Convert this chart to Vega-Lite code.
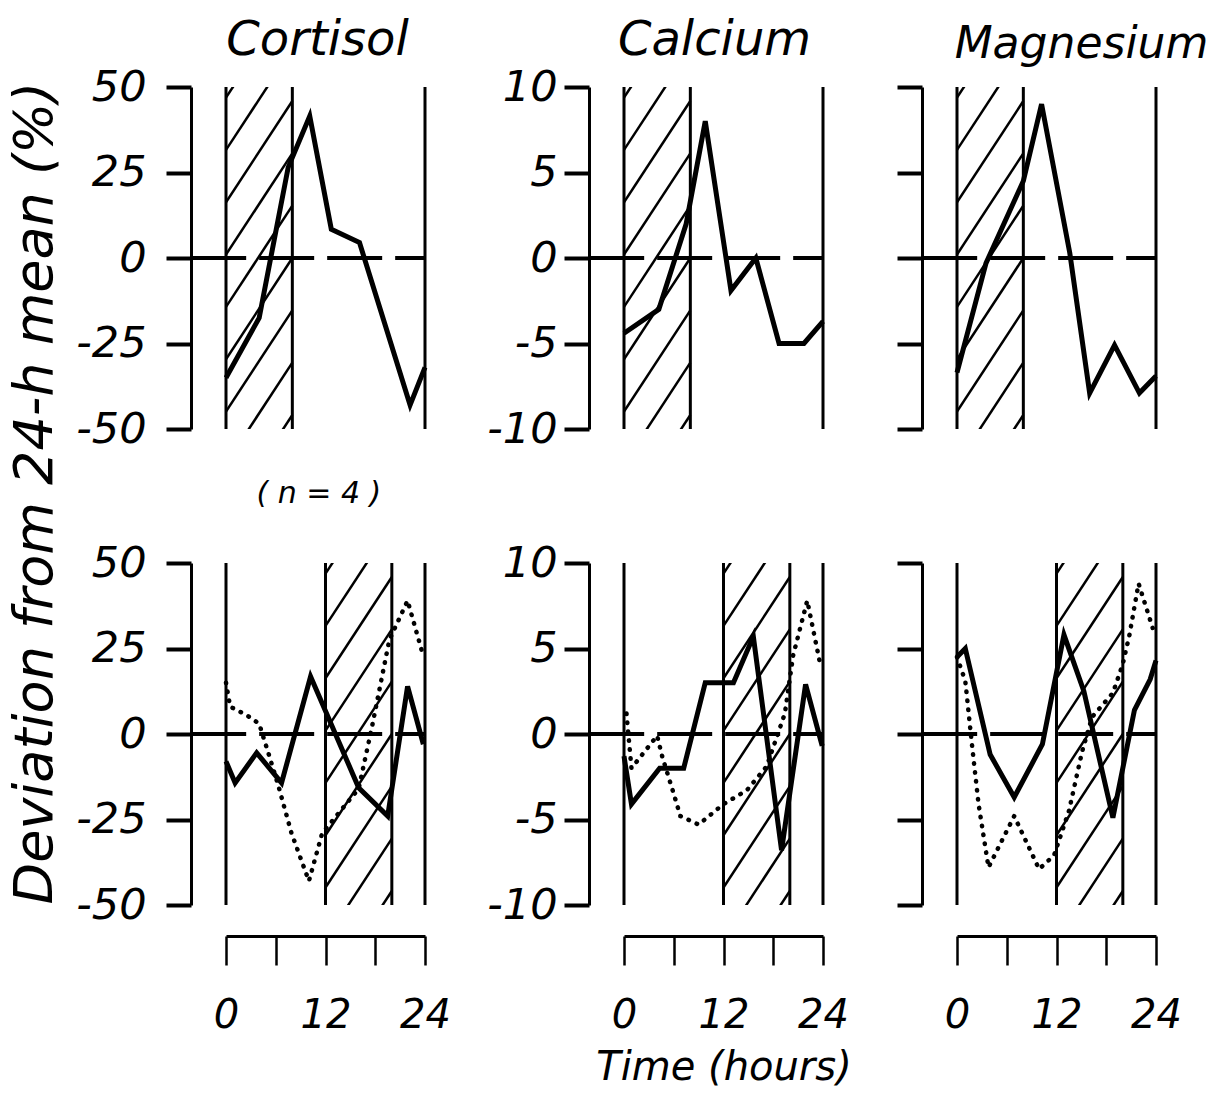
{
  "$schema": "https://vega.github.io/schema/vega-lite/v6.json",
  "padding": {"left": 8, "top": 17, "right": 5, "bottom": 3},
  "background": "white",
  "title": {"text": "Deviation from 24-h mean (%)", "orient": "left", "anchor": "middle", "fontSize": 54, "offset": 13, "dx": 59},
  "columns": 3,
  "align": "each",
  "spacing": {"row": 33, "column": 35},
  "datasets": {
    "hatch": [
      {"row": "top", "range": "50", "t0": 0, "t1": 8, "v0": -75.5, "v1": -45.9},
      {"row": "top", "range": "50", "t0": 0, "t1": 8, "v0": -60.2, "v1": -30.6},
      {"row": "top", "range": "50", "t0": 0, "t1": 8, "v0": -44.9, "v1": -15.3},
      {"row": "top", "range": "50", "t0": 0, "t1": 8, "v0": -29.6, "v1": 0},
      {"row": "top", "range": "50", "t0": 0, "t1": 8, "v0": -14.3, "v1": 15.3},
      {"row": "top", "range": "50", "t0": 0, "t1": 8, "v0": 1, "v1": 30.6},
      {"row": "top", "range": "50", "t0": 0, "t1": 8, "v0": 16.3, "v1": 45.9},
      {"row": "top", "range": "50", "t0": 0, "t1": 8, "v0": 31.6, "v1": 61.2},
      {"row": "top", "range": "50", "t0": 0, "t1": 8, "v0": 46.9, "v1": 76.5},
      {"row": "top", "range": "10", "t0": 0, "t1": 8, "v0": -15.1, "v1": -9.18},
      {"row": "top", "range": "10", "t0": 0, "t1": 8, "v0": -12.04, "v1": -6.12},
      {"row": "top", "range": "10", "t0": 0, "t1": 8, "v0": -8.98, "v1": -3.06},
      {"row": "top", "range": "10", "t0": 0, "t1": 8, "v0": -5.92, "v1": 0},
      {"row": "top", "range": "10", "t0": 0, "t1": 8, "v0": -2.86, "v1": 3.06},
      {"row": "top", "range": "10", "t0": 0, "t1": 8, "v0": 0.2, "v1": 6.12},
      {"row": "top", "range": "10", "t0": 0, "t1": 8, "v0": 3.26, "v1": 9.18},
      {"row": "top", "range": "10", "t0": 0, "t1": 8, "v0": 6.32, "v1": 12.24},
      {"row": "top", "range": "10", "t0": 0, "t1": 8, "v0": 9.38, "v1": 15.3},
      {"row": "bottom", "range": "50", "t0": 12, "t1": 20, "v0": -75.5, "v1": -45.9},
      {"row": "bottom", "range": "50", "t0": 12, "t1": 20, "v0": -60.2, "v1": -30.6},
      {"row": "bottom", "range": "50", "t0": 12, "t1": 20, "v0": -44.9, "v1": -15.3},
      {"row": "bottom", "range": "50", "t0": 12, "t1": 20, "v0": -29.6, "v1": 0},
      {"row": "bottom", "range": "50", "t0": 12, "t1": 20, "v0": -14.3, "v1": 15.3},
      {"row": "bottom", "range": "50", "t0": 12, "t1": 20, "v0": 1, "v1": 30.6},
      {"row": "bottom", "range": "50", "t0": 12, "t1": 20, "v0": 16.3, "v1": 45.9},
      {"row": "bottom", "range": "50", "t0": 12, "t1": 20, "v0": 31.6, "v1": 61.2},
      {"row": "bottom", "range": "50", "t0": 12, "t1": 20, "v0": 46.9, "v1": 76.5},
      {"row": "bottom", "range": "10", "t0": 12, "t1": 20, "v0": -15.1, "v1": -9.18},
      {"row": "bottom", "range": "10", "t0": 12, "t1": 20, "v0": -12.04, "v1": -6.12},
      {"row": "bottom", "range": "10", "t0": 12, "t1": 20, "v0": -8.98, "v1": -3.06},
      {"row": "bottom", "range": "10", "t0": 12, "t1": 20, "v0": -5.92, "v1": 0},
      {"row": "bottom", "range": "10", "t0": 12, "t1": 20, "v0": -2.86, "v1": 3.06},
      {"row": "bottom", "range": "10", "t0": 12, "t1": 20, "v0": 0.2, "v1": 6.12},
      {"row": "bottom", "range": "10", "t0": 12, "t1": 20, "v0": 3.26, "v1": 9.18},
      {"row": "bottom", "range": "10", "t0": 12, "t1": 20, "v0": 6.32, "v1": 12.24},
      {"row": "bottom", "range": "10", "t0": 12, "t1": 20, "v0": 9.38, "v1": 15.3}
    ],
    "frames": [
      {"row": "top", "t": 0}, {"row": "top", "t": 8}, {"row": "top", "t": 24},
      {"row": "bottom", "t": 0}, {"row": "bottom", "t": 12}, {"row": "bottom", "t": 20}, {"row": "bottom", "t": 24}
    ],
    "zero": [{"v": 0, "from": -4.2, "to": 24}],
    "note": [{"label": "( n = 4 )", "t": 11.2, "v": -69}],
    "series": [
      {"row": "top", "analyte": "Cortisol", "series": "solid", "t": 0, "v": -35},
      {"row": "top", "analyte": "Cortisol", "series": "solid", "t": 4, "v": -17.5},
      {"row": "top", "analyte": "Cortisol", "series": "solid", "t": 7.5, "v": 26.5},
      {"row": "top", "analyte": "Cortisol", "series": "solid", "t": 10.1, "v": 41.5},
      {"row": "top", "analyte": "Cortisol", "series": "solid", "t": 12.7, "v": 8.4},
      {"row": "top", "analyte": "Cortisol", "series": "solid", "t": 16.1, "v": 4.5},
      {"row": "top", "analyte": "Cortisol", "series": "solid", "t": 22.2, "v": -43},
      {"row": "top", "analyte": "Cortisol", "series": "solid", "t": 24, "v": -32},
      {"row": "top", "analyte": "Calcium", "series": "solid", "t": 0, "v": -4.4},
      {"row": "top", "analyte": "Calcium", "series": "solid", "t": 4.2, "v": -3.0},
      {"row": "top", "analyte": "Calcium", "series": "solid", "t": 7.5, "v": 2.0},
      {"row": "top", "analyte": "Calcium", "series": "solid", "t": 9.8, "v": 8.0},
      {"row": "top", "analyte": "Calcium", "series": "solid", "t": 12.9, "v": -1.9},
      {"row": "top", "analyte": "Calcium", "series": "solid", "t": 15.9, "v": 0},
      {"row": "top", "analyte": "Calcium", "series": "solid", "t": 18.7, "v": -5.0},
      {"row": "top", "analyte": "Calcium", "series": "solid", "t": 21.7, "v": -5.0},
      {"row": "top", "analyte": "Calcium", "series": "solid", "t": 24, "v": -3.7},
      {"row": "top", "analyte": "Magnesium", "series": "solid", "t": 0, "v": -6.7},
      {"row": "top", "analyte": "Magnesium", "series": "solid", "t": 3.5, "v": -0.3},
      {"row": "top", "analyte": "Magnesium", "series": "solid", "t": 8, "v": 4.5},
      {"row": "top", "analyte": "Magnesium", "series": "solid", "t": 10.2, "v": 9.0},
      {"row": "top", "analyte": "Magnesium", "series": "solid", "t": 13.6, "v": 0.3},
      {"row": "top", "analyte": "Magnesium", "series": "solid", "t": 16, "v": -7.9},
      {"row": "top", "analyte": "Magnesium", "series": "solid", "t": 19, "v": -5.1},
      {"row": "top", "analyte": "Magnesium", "series": "solid", "t": 22, "v": -7.9},
      {"row": "top", "analyte": "Magnesium", "series": "solid", "t": 24, "v": -6.9},
      {"row": "bottom", "analyte": "Cortisol", "series": "solid", "t": 0, "v": -8},
      {"row": "bottom", "analyte": "Cortisol", "series": "solid", "t": 1.1, "v": -14.3},
      {"row": "bottom", "analyte": "Cortisol", "series": "solid", "t": 3.7, "v": -5.5},
      {"row": "bottom", "analyte": "Cortisol", "series": "solid", "t": 6.7, "v": -14.3},
      {"row": "bottom", "analyte": "Cortisol", "series": "solid", "t": 10.2, "v": 16.8},
      {"row": "bottom", "analyte": "Cortisol", "series": "solid", "t": 16, "v": -15.7},
      {"row": "bottom", "analyte": "Cortisol", "series": "solid", "t": 19.5, "v": -24},
      {"row": "bottom", "analyte": "Cortisol", "series": "solid", "t": 21.9, "v": 13.9},
      {"row": "bottom", "analyte": "Cortisol", "series": "solid", "t": 23.8, "v": -3},
      {"row": "bottom", "analyte": "Cortisol", "series": "dotted", "t": 0, "v": 15},
      {"row": "bottom", "analyte": "Cortisol", "series": "dotted", "t": 0.5, "v": 8},
      {"row": "bottom", "analyte": "Cortisol", "series": "dotted", "t": 2.5, "v": 5.5},
      {"row": "bottom", "analyte": "Cortisol", "series": "dotted", "t": 4, "v": 3},
      {"row": "bottom", "analyte": "Cortisol", "series": "dotted", "t": 5.1, "v": -5.5},
      {"row": "bottom", "analyte": "Cortisol", "series": "dotted", "t": 6.3, "v": -15},
      {"row": "bottom", "analyte": "Cortisol", "series": "dotted", "t": 7.9, "v": -29},
      {"row": "bottom", "analyte": "Cortisol", "series": "dotted", "t": 10, "v": -43},
      {"row": "bottom", "analyte": "Cortisol", "series": "dotted", "t": 11.6, "v": -29},
      {"row": "bottom", "analyte": "Cortisol", "series": "dotted", "t": 16, "v": -16},
      {"row": "bottom", "analyte": "Cortisol", "series": "dotted", "t": 17.6, "v": 2},
      {"row": "bottom", "analyte": "Cortisol", "series": "dotted", "t": 19.7, "v": 27.5},
      {"row": "bottom", "analyte": "Cortisol", "series": "dotted", "t": 21.9, "v": 39},
      {"row": "bottom", "analyte": "Cortisol", "series": "dotted", "t": 23.7, "v": 23.6},
      {"row": "bottom", "analyte": "Calcium", "series": "solid", "t": 0, "v": -1.3},
      {"row": "bottom", "analyte": "Calcium", "series": "solid", "t": 0.9, "v": -4.1},
      {"row": "bottom", "analyte": "Calcium", "series": "solid", "t": 4.3, "v": -2.0},
      {"row": "bottom", "analyte": "Calcium", "series": "solid", "t": 7.2, "v": -2.0},
      {"row": "bottom", "analyte": "Calcium", "series": "solid", "t": 9.8, "v": 3.0},
      {"row": "bottom", "analyte": "Calcium", "series": "solid", "t": 13.2, "v": 3.0},
      {"row": "bottom", "analyte": "Calcium", "series": "solid", "t": 15.6, "v": 5.7},
      {"row": "bottom", "analyte": "Calcium", "series": "solid", "t": 19.0, "v": -6.8},
      {"row": "bottom", "analyte": "Calcium", "series": "solid", "t": 21.9, "v": 2.9},
      {"row": "bottom", "analyte": "Calcium", "series": "solid", "t": 23.9, "v": -0.7},
      {"row": "bottom", "analyte": "Calcium", "series": "dotted", "t": 0.3, "v": 1.2},
      {"row": "bottom", "analyte": "Calcium", "series": "dotted", "t": 0.9, "v": -2.0},
      {"row": "bottom", "analyte": "Calcium", "series": "dotted", "t": 4.0, "v": -0.1},
      {"row": "bottom", "analyte": "Calcium", "series": "dotted", "t": 4.6, "v": -1.3},
      {"row": "bottom", "analyte": "Calcium", "series": "dotted", "t": 6.0, "v": -3.5},
      {"row": "bottom", "analyte": "Calcium", "series": "dotted", "t": 6.8, "v": -4.8},
      {"row": "bottom", "analyte": "Calcium", "series": "dotted", "t": 9.0, "v": -5.3},
      {"row": "bottom", "analyte": "Calcium", "series": "dotted", "t": 12.0, "v": -4.1},
      {"row": "bottom", "analyte": "Calcium", "series": "dotted", "t": 14.8, "v": -3.3},
      {"row": "bottom", "analyte": "Calcium", "series": "dotted", "t": 17.2, "v": -1.9},
      {"row": "bottom", "analyte": "Calcium", "series": "dotted", "t": 19.4, "v": 1.2},
      {"row": "bottom", "analyte": "Calcium", "series": "dotted", "t": 20.4, "v": 4.6},
      {"row": "bottom", "analyte": "Calcium", "series": "dotted", "t": 22.1, "v": 7.8},
      {"row": "bottom", "analyte": "Calcium", "series": "dotted", "t": 23.7, "v": 4.0},
      {"row": "bottom", "analyte": "Magnesium", "series": "solid", "t": 0, "v": 4.5},
      {"row": "bottom", "analyte": "Magnesium", "series": "solid", "t": 1.0, "v": 5.0},
      {"row": "bottom", "analyte": "Magnesium", "series": "solid", "t": 4.0, "v": -1.2},
      {"row": "bottom", "analyte": "Magnesium", "series": "solid", "t": 6.9, "v": -3.7},
      {"row": "bottom", "analyte": "Magnesium", "series": "solid", "t": 10.3, "v": -0.6},
      {"row": "bottom", "analyte": "Magnesium", "series": "solid", "t": 12.9, "v": 5.8},
      {"row": "bottom", "analyte": "Magnesium", "series": "solid", "t": 15.3, "v": 2.5},
      {"row": "bottom", "analyte": "Magnesium", "series": "solid", "t": 18.8, "v": -4.9},
      {"row": "bottom", "analyte": "Magnesium", "series": "solid", "t": 21.4, "v": 1.4},
      {"row": "bottom", "analyte": "Magnesium", "series": "solid", "t": 23.3, "v": 3.2},
      {"row": "bottom", "analyte": "Magnesium", "series": "solid", "t": 24, "v": 4.3},
      {"row": "bottom", "analyte": "Magnesium", "series": "dotted", "t": 0, "v": 4.5},
      {"row": "bottom", "analyte": "Magnesium", "series": "dotted", "t": 1.0, "v": 3.1},
      {"row": "bottom", "analyte": "Magnesium", "series": "dotted", "t": 1.8, "v": -0.6},
      {"row": "bottom", "analyte": "Magnesium", "series": "dotted", "t": 2.6, "v": -4.1},
      {"row": "bottom", "analyte": "Magnesium", "series": "dotted", "t": 3.8, "v": -7.8},
      {"row": "bottom", "analyte": "Magnesium", "series": "dotted", "t": 6.9, "v": -4.8},
      {"row": "bottom", "analyte": "Magnesium", "series": "dotted", "t": 9.9, "v": -7.9},
      {"row": "bottom", "analyte": "Magnesium", "series": "dotted", "t": 11.7, "v": -7.1},
      {"row": "bottom", "analyte": "Magnesium", "series": "dotted", "t": 13.5, "v": -4.5},
      {"row": "bottom", "analyte": "Magnesium", "series": "dotted", "t": 15.1, "v": -1.0},
      {"row": "bottom", "analyte": "Magnesium", "series": "dotted", "t": 16.3, "v": 1.0},
      {"row": "bottom", "analyte": "Magnesium", "series": "dotted", "t": 18.8, "v": 2.4},
      {"row": "bottom", "analyte": "Magnesium", "series": "dotted", "t": 20.0, "v": 4.1},
      {"row": "bottom", "analyte": "Magnesium", "series": "dotted", "t": 20.8, "v": 5.8},
      {"row": "bottom", "analyte": "Magnesium", "series": "dotted", "t": 21.9, "v": 8.8},
      {"row": "bottom", "analyte": "Magnesium", "series": "dotted", "t": 23.6, "v": 6.2}
    ]
  },
  "concat": [
    {
      "width": 199, "height": 342,
      "title": {"text": "Cortisol", "frame": "group", "dx": -8, "offset": 1},
      "layer": [
        {"data": {"name": "hatch"}, "transform": [{"filter": "datum.row === 'top' && datum.range === '50'"}],
         "mark": {"type": "rule", "clip": true, "strokeWidth": 2.5, "color": "black"},
         "encoding": {"x": {"field": "t0", "type": "quantitative", "scale": {"domain": [0, 24], "nice": false, "zero": false}, "axis": null}, "x2": {"field": "t1"},
                      "y": {"field": "v0", "type": "quantitative", "scale": {"domain": [-50, 50], "nice": false, "zero": false},
                            "axis": {"values": [-50, -25, 0, 25, 50], "title": null, "labelPadding": 20, "labelExpr": "replace(datum.label, '−', '-')"}}, "y2": {"field": "v1"}}},
        {"data": {"name": "frames"}, "transform": [{"filter": "datum.row === 'top'"}],
         "mark": {"type": "rule", "strokeWidth": 3, "color": "black"},
         "encoding": {"x": {"field": "t", "type": "quantitative", "axis": null}}},
        {"data": {"name": "zero"},
         "mark": {"type": "rule", "strokeWidth": 4, "color": "black", "strokeDash": [55, 13]},
         "encoding": {"x": {"field": "from", "type": "quantitative", "axis": null}, "x2": {"field": "to"},
                      "y": {"field": "v", "type": "quantitative", "axis": {"values": [-50, -25, 0, 25, 50], "title": null, "labelPadding": 20, "labelExpr": "replace(datum.label, '−', '-')"}}}},
        {"data": {"name": "series"}, "transform": [{"filter": "datum.row === 'top' && datum.analyte === 'Cortisol' && datum.series === 'solid'"}],
         "mark": {"type": "line", "strokeWidth": 5, "color": "black", "strokeJoin": "miter"},
         "encoding": {"x": {"field": "t", "type": "quantitative", "axis": null},
                      "y": {"field": "v", "type": "quantitative", "axis": {"values": [-50, -25, 0, 25, 50], "title": null, "labelPadding": 20, "labelExpr": "replace(datum.label, '−', '-')"}}}},
        {"data": {"name": "note"},
         "mark": {"type": "text", "fontSize": 30, "fontStyle": "italic", "color": "black", "baseline": "middle"},
         "encoding": {"x": {"field": "t", "type": "quantitative", "axis": null},
                      "y": {"field": "v", "type": "quantitative", "axis": {"values": [-50, -25, 0, 25, 50], "title": null, "labelPadding": 20, "labelExpr": "replace(datum.label, '−', '-')"}}, "text": {"field": "label"}}}
      ]
    },
    {
      "width": 199, "height": 342,
      "title": {"text": "Calcium", "frame": "group", "dx": -9, "offset": 1},
      "layer": [
        {"data": {"name": "hatch"}, "transform": [{"filter": "datum.row === 'top' && datum.range === '10'"}],
         "mark": {"type": "rule", "clip": true, "strokeWidth": 2.5, "color": "black"},
         "encoding": {"x": {"field": "t0", "type": "quantitative", "scale": {"domain": [0, 24], "nice": false, "zero": false}, "axis": null}, "x2": {"field": "t1"},
                      "y": {"field": "v0", "type": "quantitative", "scale": {"domain": [-10, 10], "nice": false, "zero": false},
                            "axis": {"values": [-10, -5, 0, 5, 10], "title": null, "labelPadding": 7, "labelExpr": "replace(datum.label, '−', '-')"}}, "y2": {"field": "v1"}}},
        {"data": {"name": "frames"}, "transform": [{"filter": "datum.row === 'top'"}],
         "mark": {"type": "rule", "strokeWidth": 3, "color": "black"},
         "encoding": {"x": {"field": "t", "type": "quantitative", "axis": null}}},
        {"data": {"name": "zero"},
         "mark": {"type": "rule", "strokeWidth": 4, "color": "black", "strokeDash": [55, 13]},
         "encoding": {"x": {"field": "from", "type": "quantitative", "axis": null}, "x2": {"field": "to"},
                      "y": {"field": "v", "type": "quantitative", "axis": {"values": [-10, -5, 0, 5, 10], "title": null, "labelPadding": 7, "labelExpr": "replace(datum.label, '−', '-')"}}}},
        {"data": {"name": "series"}, "transform": [{"filter": "datum.row === 'top' && datum.analyte === 'Calcium' && datum.series === 'solid'"}],
         "mark": {"type": "line", "strokeWidth": 5, "color": "black", "strokeJoin": "miter"},
         "encoding": {"x": {"field": "t", "type": "quantitative", "axis": null},
                      "y": {"field": "v", "type": "quantitative", "axis": {"values": [-10, -5, 0, 5, 10], "title": null, "labelPadding": 7, "labelExpr": "replace(datum.label, '−', '-')"}}}}
      ]
    },
    {
      "width": 199, "height": 342,
      "title": {"text": "Magnesium", "frame": "group", "dx": 25, "offset": 18, "fontSize": 44},
      "layer": [
        {"data": {"name": "hatch"}, "transform": [{"filter": "datum.row === 'top' && datum.range === '10'"}],
         "mark": {"type": "rule", "clip": true, "strokeWidth": 2.5, "color": "black"},
         "encoding": {"x": {"field": "t0", "type": "quantitative", "scale": {"domain": [0, 24], "nice": false, "zero": false}, "axis": null}, "x2": {"field": "t1"},
                      "y": {"field": "v0", "type": "quantitative", "scale": {"domain": [-10, 10], "nice": false, "zero": false},
                            "axis": {"values": [-10, -5, 0, 5, 10], "title": null, "labels": false, "minExtent": 35}}, "y2": {"field": "v1"}}},
        {"data": {"name": "frames"}, "transform": [{"filter": "datum.row === 'top'"}],
         "mark": {"type": "rule", "strokeWidth": 3, "color": "black"},
         "encoding": {"x": {"field": "t", "type": "quantitative", "axis": null}}},
        {"data": {"name": "zero"},
         "mark": {"type": "rule", "strokeWidth": 4, "color": "black", "strokeDash": [55, 13]},
         "encoding": {"x": {"field": "from", "type": "quantitative", "axis": null}, "x2": {"field": "to"},
                      "y": {"field": "v", "type": "quantitative", "axis": {"values": [-10, -5, 0, 5, 10], "title": null, "labels": false, "minExtent": 35}}}},
        {"data": {"name": "series"}, "transform": [{"filter": "datum.row === 'top' && datum.analyte === 'Magnesium' && datum.series === 'solid'"}],
         "mark": {"type": "line", "strokeWidth": 5, "color": "black", "strokeJoin": "miter"},
         "encoding": {"x": {"field": "t", "type": "quantitative", "axis": null},
                      "y": {"field": "v", "type": "quantitative", "axis": {"values": [-10, -5, 0, 5, 10], "title": null, "labels": false, "minExtent": 35}}}}
      ]
    },
    {
      "width": 199, "height": 342,
      "layer": [
        {"data": {"name": "hatch"}, "transform": [{"filter": "datum.row === 'bottom' && datum.range === '50'"}],
         "mark": {"type": "rule", "clip": true, "strokeWidth": 2.5, "color": "black"},
         "encoding": {"x": {"field": "t0", "type": "quantitative", "scale": {"domain": [0, 24], "nice": false, "zero": false},
                            "axis": {"values": [0, 6, 12, 18, 24], "title": null, "labelExpr": "datum.value % 12 === 0 ? datum.label : ''"}}, "x2": {"field": "t1"},
                      "y": {"field": "v0", "type": "quantitative", "scale": {"domain": [-50, 50], "nice": false, "zero": false},
                            "axis": {"values": [-50, -25, 0, 25, 50], "title": null, "labelPadding": 20, "labelExpr": "replace(datum.label, '−', '-')"}}, "y2": {"field": "v1"}}},
        {"data": {"name": "frames"}, "transform": [{"filter": "datum.row === 'bottom'"}],
         "mark": {"type": "rule", "strokeWidth": 3, "color": "black"},
         "encoding": {"x": {"field": "t", "type": "quantitative", "axis": {"values": [0, 6, 12, 18, 24], "title": null, "labelExpr": "datum.value % 12 === 0 ? datum.label : ''"}}}},
        {"data": {"name": "zero"},
         "mark": {"type": "rule", "strokeWidth": 4, "color": "black", "strokeDash": [55, 13]},
         "encoding": {"x": {"field": "from", "type": "quantitative", "axis": {"values": [0, 6, 12, 18, 24], "title": null, "labelExpr": "datum.value % 12 === 0 ? datum.label : ''"}}, "x2": {"field": "to"},
                      "y": {"field": "v", "type": "quantitative", "axis": {"values": [-50, -25, 0, 25, 50], "title": null, "labelPadding": 20, "labelExpr": "replace(datum.label, '−', '-')"}}}},
        {"data": {"name": "series"}, "transform": [{"filter": "datum.row === 'bottom' && datum.analyte === 'Cortisol' && datum.series === 'dotted'"}],
         "mark": {"type": "line", "strokeWidth": 4.5, "color": "black", "strokeDash": [0.5, 8.5], "strokeCap": "round"},
         "encoding": {"x": {"field": "t", "type": "quantitative", "axis": {"values": [0, 6, 12, 18, 24], "title": null, "labelExpr": "datum.value % 12 === 0 ? datum.label : ''"}},
                      "y": {"field": "v", "type": "quantitative", "axis": {"values": [-50, -25, 0, 25, 50], "title": null, "labelPadding": 20, "labelExpr": "replace(datum.label, '−', '-')"}}}},
        {"data": {"name": "series"}, "transform": [{"filter": "datum.row === 'bottom' && datum.analyte === 'Cortisol' && datum.series === 'solid'"}],
         "mark": {"type": "line", "strokeWidth": 5, "color": "black", "strokeJoin": "miter"},
         "encoding": {"x": {"field": "t", "type": "quantitative", "axis": {"values": [0, 6, 12, 18, 24], "title": null, "labelExpr": "datum.value % 12 === 0 ? datum.label : ''"}},
                      "y": {"field": "v", "type": "quantitative", "axis": {"values": [-50, -25, 0, 25, 50], "title": null, "labelPadding": 20, "labelExpr": "replace(datum.label, '−', '-')"}}}}
      ]
    },
    {
      "width": 199, "height": 342,
      "layer": [
        {"data": {"name": "hatch"}, "transform": [{"filter": "datum.row === 'bottom' && datum.range === '10'"}],
         "mark": {"type": "rule", "clip": true, "strokeWidth": 2.5, "color": "black"},
         "encoding": {"x": {"field": "t0", "type": "quantitative", "scale": {"domain": [0, 24], "nice": false, "zero": false},
                            "axis": {"values": [0, 6, 12, 18, 24], "title": "Time (hours)", "labelExpr": "datum.value % 12 === 0 ? datum.label : ''"}}, "x2": {"field": "t1"},
                      "y": {"field": "v0", "type": "quantitative", "scale": {"domain": [-10, 10], "nice": false, "zero": false},
                            "axis": {"values": [-10, -5, 0, 5, 10], "title": null, "labelPadding": 7, "labelExpr": "replace(datum.label, '−', '-')"}}, "y2": {"field": "v1"}}},
        {"data": {"name": "frames"}, "transform": [{"filter": "datum.row === 'bottom'"}],
         "mark": {"type": "rule", "strokeWidth": 3, "color": "black"},
         "encoding": {"x": {"field": "t", "type": "quantitative", "axis": {"values": [0, 6, 12, 18, 24], "title": "Time (hours)", "labelExpr": "datum.value % 12 === 0 ? datum.label : ''"}}}},
        {"data": {"name": "zero"},
         "mark": {"type": "rule", "strokeWidth": 4, "color": "black", "strokeDash": [55, 13]},
         "encoding": {"x": {"field": "from", "type": "quantitative", "axis": {"values": [0, 6, 12, 18, 24], "title": "Time (hours)", "labelExpr": "datum.value % 12 === 0 ? datum.label : ''"}}, "x2": {"field": "to"},
                      "y": {"field": "v", "type": "quantitative", "axis": {"values": [-10, -5, 0, 5, 10], "title": null, "labelPadding": 7, "labelExpr": "replace(datum.label, '−', '-')"}}}},
        {"data": {"name": "series"}, "transform": [{"filter": "datum.row === 'bottom' && datum.analyte === 'Calcium' && datum.series === 'dotted'"}],
         "mark": {"type": "line", "strokeWidth": 4.5, "color": "black", "strokeDash": [0.5, 8.5], "strokeCap": "round"},
         "encoding": {"x": {"field": "t", "type": "quantitative", "axis": {"values": [0, 6, 12, 18, 24], "title": "Time (hours)", "labelExpr": "datum.value % 12 === 0 ? datum.label : ''"}},
                      "y": {"field": "v", "type": "quantitative", "axis": {"values": [-10, -5, 0, 5, 10], "title": null, "labelPadding": 7, "labelExpr": "replace(datum.label, '−', '-')"}}}},
        {"data": {"name": "series"}, "transform": [{"filter": "datum.row === 'bottom' && datum.analyte === 'Calcium' && datum.series === 'solid'"}],
         "mark": {"type": "line", "strokeWidth": 5, "color": "black", "strokeJoin": "miter"},
         "encoding": {"x": {"field": "t", "type": "quantitative", "axis": {"values": [0, 6, 12, 18, 24], "title": "Time (hours)", "labelExpr": "datum.value % 12 === 0 ? datum.label : ''"}},
                      "y": {"field": "v", "type": "quantitative", "axis": {"values": [-10, -5, 0, 5, 10], "title": null, "labelPadding": 7, "labelExpr": "replace(datum.label, '−', '-')"}}}}
      ]
    },
    {
      "width": 199, "height": 342,
      "layer": [
        {"data": {"name": "hatch"}, "transform": [{"filter": "datum.row === 'bottom' && datum.range === '10'"}],
         "mark": {"type": "rule", "clip": true, "strokeWidth": 2.5, "color": "black"},
         "encoding": {"x": {"field": "t0", "type": "quantitative", "scale": {"domain": [0, 24], "nice": false, "zero": false},
                            "axis": {"values": [0, 6, 12, 18, 24], "title": null, "labelExpr": "datum.value % 12 === 0 ? datum.label : ''"}}, "x2": {"field": "t1"},
                      "y": {"field": "v0", "type": "quantitative", "scale": {"domain": [-10, 10], "nice": false, "zero": false},
                            "axis": {"values": [-10, -5, 0, 5, 10], "title": null, "labels": false, "minExtent": 35}}, "y2": {"field": "v1"}}},
        {"data": {"name": "frames"}, "transform": [{"filter": "datum.row === 'bottom'"}],
         "mark": {"type": "rule", "strokeWidth": 3, "color": "black"},
         "encoding": {"x": {"field": "t", "type": "quantitative", "axis": {"values": [0, 6, 12, 18, 24], "title": null, "labelExpr": "datum.value % 12 === 0 ? datum.label : ''"}}}},
        {"data": {"name": "zero"},
         "mark": {"type": "rule", "strokeWidth": 4, "color": "black", "strokeDash": [55, 13]},
         "encoding": {"x": {"field": "from", "type": "quantitative", "axis": {"values": [0, 6, 12, 18, 24], "title": null, "labelExpr": "datum.value % 12 === 0 ? datum.label : ''"}}, "x2": {"field": "to"},
                      "y": {"field": "v", "type": "quantitative", "axis": {"values": [-10, -5, 0, 5, 10], "title": null, "labels": false, "minExtent": 35}}}},
        {"data": {"name": "series"}, "transform": [{"filter": "datum.row === 'bottom' && datum.analyte === 'Magnesium' && datum.series === 'dotted'"}],
         "mark": {"type": "line", "strokeWidth": 4.5, "color": "black", "strokeDash": [0.5, 8.5], "strokeCap": "round"},
         "encoding": {"x": {"field": "t", "type": "quantitative", "axis": {"values": [0, 6, 12, 18, 24], "title": null, "labelExpr": "datum.value % 12 === 0 ? datum.label : ''"}},
                      "y": {"field": "v", "type": "quantitative", "axis": {"values": [-10, -5, 0, 5, 10], "title": null, "labels": false, "minExtent": 35}}}},
        {"data": {"name": "series"}, "transform": [{"filter": "datum.row === 'bottom' && datum.analyte === 'Magnesium' && datum.series === 'solid'"}],
         "mark": {"type": "line", "strokeWidth": 5, "color": "black", "strokeJoin": "miter"},
         "encoding": {"x": {"field": "t", "type": "quantitative", "axis": {"values": [0, 6, 12, 18, 24], "title": null, "labelExpr": "datum.value % 12 === 0 ? datum.label : ''"}},
                      "y": {"field": "v", "type": "quantitative", "axis": {"values": [-10, -5, 0, 5, 10], "title": null, "labels": false, "minExtent": 35}}}}
      ]
    }
  ],
  "config": {
    "view": {"stroke": null},
    "font": "DejaVu Sans",
    "axis": {"grid": false, "domainColor": "black", "domainWidth": 3, "tickColor": "black", "labelColor": "black", "titleColor": "black",
             "labelFont": "DejaVu Sans", "titleFont": "DejaVu Sans", "labelFontStyle": "italic", "titleFontStyle": "italic", "titleFontWeight": "normal",
             "labelFontSize": 40, "titleFontSize": 40},
    "axisY": {"offset": 35, "tickSize": 25, "tickWidth": 4, "labelFontSize": 43},
    "axisX": {"offset": 31, "tickSize": 29, "tickWidth": 2.5, "labelPadding": 30, "titlePadding": 12, "labelFlush": false},
    "title": {"font": "DejaVu Sans", "fontStyle": "italic", "fontWeight": "normal", "fontSize": 48, "color": "black"}
  }
}
